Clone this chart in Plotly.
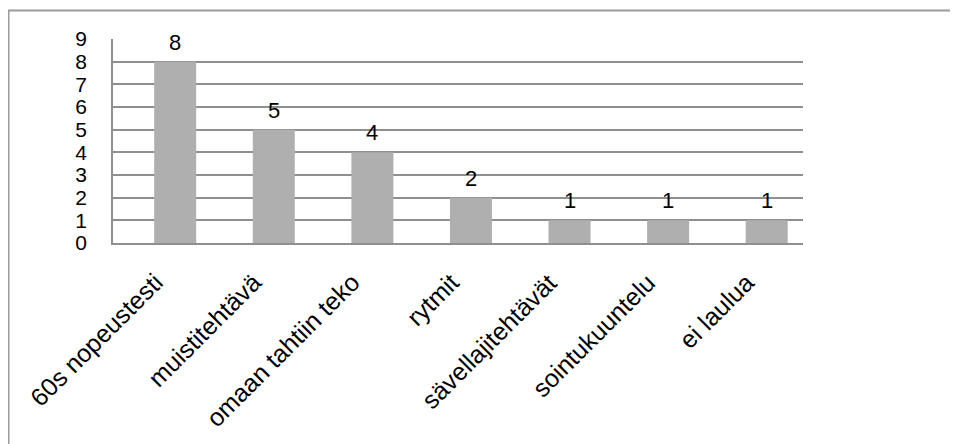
import plotly.graph_objects as go

categories = ["60s nopeustesti", "muistitehtävä", "omaan tahtiin teko", "rytmit",
              "sävellajitehtävät", "sointukuuntelu", "ei laulua"]
values = [8, 5, 4, 2, 1, 1, 1]
y_ticks = list(range(0, 10))

# page body has an 8px default margin, so the figure is laid out 8px in
W, H = 950, 436
ML, MT = 105, 31
pw, ph = 690, 204
MR = W - ML - pw
MB = H - MT - ph

FONT = "Liberation Sans, Arial, sans-serif"
GRID = "#8f8f8f"

fig = go.Figure()
fig.add_trace(go.Bar(
    x=list(range(len(categories))), y=values,
    marker=dict(color="#afafaf", line=dict(width=0)),
    width=0.426,
))

for i, v in enumerate(values):
    fig.add_annotation(x=i, y=v, text=str(v), showarrow=False,
                       xref="x", yref="y", yanchor="bottom", yshift=5,
                       font=dict(family=FONT, size=22, color="#000"))

# rotated category labels
for i, c in enumerate(categories):
    fig.add_annotation(x=i, y=0, text=c, showarrow=False, xref="x", yref="paper",
                       textangle=-45, xanchor="right", yanchor="top",
                       xshift=-6, yshift=-24, borderpad=0,
                       font=dict(family=FONT, size=25, color="#000"))

# outer chart border (extends past right/bottom edges as in the reference)
fig.add_shape(type="rect", xref="paper", yref="paper",
              x0=(0.5 - ML) / pw, x1=(W + 40 - ML) / pw,
              y0=(ph - (H + 40 - MT)) / ph, y1=(ph + MT - 2.5) / ph,
              line=dict(color="#9a9a9a", width=2), fillcolor="rgba(0,0,0,0)", layer="below")

fig.update_layout(
    template="none",
    width=W, height=H,
    margin=dict(l=ML, r=MR, t=MT, b=MB, pad=0, autoexpand=False),
    paper_bgcolor="white", plot_bgcolor="white",
    showlegend=False,
    font=dict(family=FONT, color="#000"),
)
fig.update_xaxes(
    range=[-0.631, 6.368], automargin=False,
    tickmode="array", tickvals=list(range(len(categories))), showticklabels=False,
    showgrid=False, showline=True, linecolor=GRID, linewidth=1.5,
    ticks="", zeroline=False, fixedrange=True,
)
fig.update_yaxes(
    range=[0, 9], automargin=False, tickmode="array", tickvals=y_ticks,
    ticktext=[str(t) for t in y_ticks],
    tickfont=dict(family=FONT, size=21, color="#000"),
    showgrid=True, gridcolor=GRID, gridwidth=1.5,
    showline=True, linecolor=GRID, linewidth=1.5,
    zeroline=False, ticks="", ticklabelstandoff=20, fixedrange=True,
)

fig.write_html("out.html", config={"displayModeBar": False})
